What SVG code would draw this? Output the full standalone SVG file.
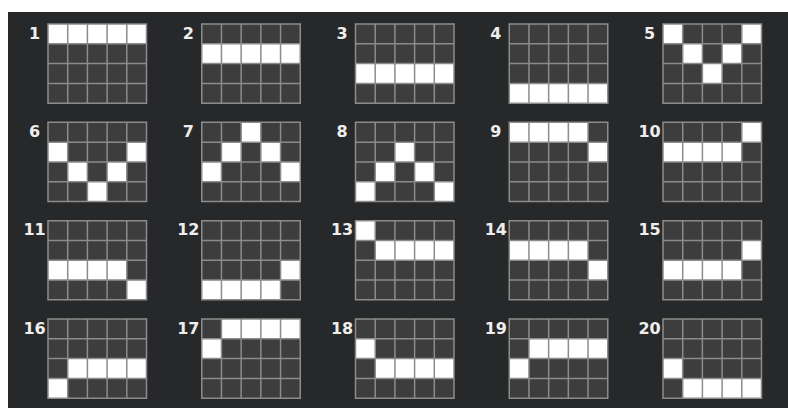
<svg xmlns="http://www.w3.org/2000/svg" xmlns:xlink="http://www.w3.org/1999/xlink" width="788" height="408" viewBox="0 0 788 408">
<style>
.bg{fill:#27282a}
.base{fill:#3d3d3d}
.on{fill:#ffffff}
.lines{fill:none;stroke:#8c8c8c;stroke-width:1.5}
.lbl{font-family:"DejaVu Sans",sans-serif;font-weight:bold;font-size:16px;fill:#eeeeee;text-anchor:middle}
</style>
<defs>
<rect id="base" class="base" x="0" y="0" width="98.5" height="79.2"/>
<path id="lines" class="lines" d="M0,0H98.5V79.2H0Z M19.7,0V79.2 M39.4,0V79.2 M59.1,0V79.2 M78.8,0V79.2 M0,19.8H98.5 M0,39.6H98.5 M0,59.4H98.5"/>
<rect id="cell" class="on" width="19.7" height="19.8"/>
<rect id="row" class="on" width="98.5" height="19.8"/>
<rect id="row4" class="on" width="78.8" height="19.8"/>
</defs>
<rect class="bg" x="8" y="12" width="780" height="396"/>

<g id="node1" transform="translate(48,24)"><use href="#base"/><use href="#row" y="0"/><use href="#lines"/><text class="lbl" x="-13.5" y="14.5">1</text></g>
<g id="node2" transform="translate(201.75,24)"><use href="#base"/><use href="#row" y="19.8"/><use href="#lines"/><text class="lbl" x="-13.5" y="14.5">2</text></g>
<g id="node3" transform="translate(355.5,24)"><use href="#base"/><use href="#row" y="39.6"/><use href="#lines"/><text class="lbl" x="-13.5" y="14.5">3</text></g>
<g id="node4" transform="translate(509.25,24)"><use href="#base"/><use href="#row" y="59.4"/><use href="#lines"/><text class="lbl" x="-13.5" y="14.5">4</text></g>
<g id="node5" transform="translate(663,24)"><use href="#base"/><use href="#cell" x="0" y="0"/><use href="#cell" x="19.7" y="19.8"/><use href="#cell" x="39.4" y="39.6"/><use href="#cell" x="59.1" y="19.8"/><use href="#cell" x="78.8" y="0"/><use href="#lines"/><text class="lbl" x="-13.5" y="14.5">5</text></g>

<g id="node6" transform="translate(48,122.33)"><use href="#base"/><use href="#cell" x="0" y="19.8"/><use href="#cell" x="19.7" y="39.6"/><use href="#cell" x="39.4" y="59.4"/><use href="#cell" x="59.1" y="39.6"/><use href="#cell" x="78.8" y="19.8"/><use href="#lines"/><text class="lbl" x="-13.5" y="14.5">6</text></g>
<g id="node7" transform="translate(201.75,122.33)"><use href="#base"/><use href="#cell" x="0" y="39.6"/><use href="#cell" x="19.7" y="19.8"/><use href="#cell" x="39.4" y="0"/><use href="#cell" x="59.1" y="19.8"/><use href="#cell" x="78.8" y="39.6"/><use href="#lines"/><text class="lbl" x="-13.5" y="14.5">7</text></g>
<g id="node8" transform="translate(355.5,122.33)"><use href="#base"/><use href="#cell" x="0" y="59.4"/><use href="#cell" x="19.7" y="39.6"/><use href="#cell" x="39.4" y="19.8"/><use href="#cell" x="59.1" y="39.6"/><use href="#cell" x="78.8" y="59.4"/><use href="#lines"/><text class="lbl" x="-13.5" y="14.5">8</text></g>
<g id="node9" transform="translate(509.25,122.33)"><use href="#base"/><use href="#row4" x="0" y="0"/><use href="#cell" x="78.8" y="19.8"/><use href="#lines"/><text class="lbl" x="-13.5" y="14.5">9</text></g>
<g id="node10" transform="translate(663,122.33)"><use href="#base"/><use href="#cell" x="78.8" y="0"/><use href="#row4" x="0" y="19.8"/><use href="#lines"/><text class="lbl" x="-13.5" y="14.5">10</text></g>

<g id="node11" transform="translate(48,220.67)"><use href="#base"/><use href="#row4" x="0" y="39.6"/><use href="#cell" x="78.8" y="59.4"/><use href="#lines"/><text class="lbl" x="-13.5" y="14.5">11</text></g>
<g id="node12" transform="translate(201.75,220.67)"><use href="#base"/><use href="#row4" x="0" y="59.4"/><use href="#cell" x="78.8" y="39.6"/><use href="#lines"/><text class="lbl" x="-13.5" y="14.5">12</text></g>
<g id="node13" transform="translate(355.5,220.67)"><use href="#base"/><use href="#cell" x="0" y="0"/><use href="#row4" x="19.7" y="19.8"/><use href="#lines"/><text class="lbl" x="-13.5" y="14.5">13</text></g>
<g id="node14" transform="translate(509.25,220.67)"><use href="#base"/><use href="#row4" x="0" y="19.8"/><use href="#cell" x="78.8" y="39.6"/><use href="#lines"/><text class="lbl" x="-13.5" y="14.5">14</text></g>
<g id="node15" transform="translate(663,220.67)"><use href="#base"/><use href="#cell" x="78.8" y="19.8"/><use href="#row4" x="0" y="39.6"/><use href="#lines"/><text class="lbl" x="-13.5" y="14.5">15</text></g>

<g id="node16" transform="translate(48,319)"><use href="#base"/><use href="#row4" x="19.7" y="39.6"/><use href="#cell" x="0" y="59.4"/><use href="#lines"/><text class="lbl" x="-13.5" y="14.5">16</text></g>
<g id="node17" transform="translate(201.75,319)"><use href="#base"/><use href="#cell" x="0" y="19.8"/><use href="#row4" x="19.7" y="0"/><use href="#lines"/><text class="lbl" x="-13.5" y="14.5">17</text></g>
<g id="node18" transform="translate(355.5,319)"><use href="#base"/><use href="#cell" x="0" y="19.8"/><use href="#row4" x="19.7" y="39.6"/><use href="#lines"/><text class="lbl" x="-13.5" y="14.5">18</text></g>
<g id="node19" transform="translate(509.25,319)"><use href="#base"/><use href="#cell" x="0" y="39.6"/><use href="#row4" x="19.7" y="19.8"/><use href="#lines"/><text class="lbl" x="-13.5" y="14.5">19</text></g>
<g id="node20" transform="translate(663,319)"><use href="#base"/><use href="#cell" x="0" y="39.6"/><use href="#row4" x="19.7" y="59.4"/><use href="#lines"/><text class="lbl" x="-13.5" y="14.5">20</text></g>

<g id="connectors"/>
</svg>
